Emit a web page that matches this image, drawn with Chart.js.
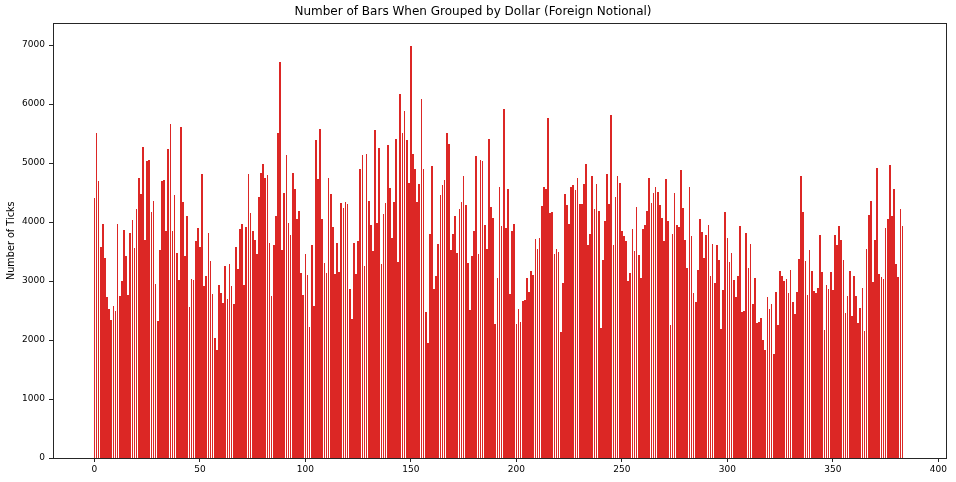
<!DOCTYPE html>
<html>
<head>
<meta charset="utf-8">
<script src="https://cdn.jsdelivr.net/npm/chart.js@4.4.0/dist/chart.umd.min.js"></script>
<style>
  body { margin: 0; background: #fff; }
  canvas { display: block; }
</style>
</head>
<body>
<canvas id="Chart" width="956" height="482"></canvas>
<script>
const chartTitle = 'Number of Bars When Grouped by Dollar (Foreign Notional)';
const yAxisTitle = 'Number of Ticks';
const xTickValues = [0, 50, 100, 150, 200, 250, 300, 350, 400];
const yTickValues = [0, 1000, 2000, 3000, 4000, 5000, 6000, 7000];

// ticks per dollar bar (bar 0 .. 383)
const ticksPerBar = [
  4410, 5510, 4700, 3580, 3970, 3390, 2730, 2530, 2340, 2580,
  2490, 3970, 2750, 3000, 3860, 3420, 2760, 3810, 4030, 3560,
  4220, 4750, 4470, 5270, 3700, 5030, 5050, 4170, 4360, 2950,
  2320, 3530, 4700, 4710, 3850, 5240, 5660, 3850, 4460, 3470,
  3020, 5610, 4340, 3420, 4100, 2560, 3030, 3020, 3680, 3900,
  3580, 4810, 2920, 3080, 3810, 3340, 2780, 2030, 1830, 2930,
  2800, 2630, 3250, 2700, 3290, 2920, 2610, 3580, 3200, 3880,
  3970, 2930, 3920, 4810, 4150, 3850, 3700, 3460, 4420, 4830,
  4980, 4750, 4800, 3640, 2750, 3610, 4100, 5510, 6710, 3530,
  4490, 5140, 3980, 3780, 4830, 4560, 4050, 4190, 3140, 2760,
  3460, 3100, 2220, 3610, 2580, 5390, 4730, 5580, 4050, 3310,
  3140, 4750, 4470, 3920, 3120, 3640, 3150, 4320, 4240, 4340,
  4310, 2860, 2360, 3640, 3120, 3680, 4900, 5140, 3250, 5150,
  4360, 3950, 3510, 5560, 3980, 5250, 3290, 4140, 4320, 5310,
  4580, 3730, 4340, 5410, 3320, 6170, 5510, 5880, 5390, 4660,
  6990, 5150, 4900, 4340, 4640, 6080, 4900, 2470, 1950, 3800,
  4950, 2860, 3080, 3630, 4460, 4630, 4710, 5510, 5320, 3530,
  3800, 4100, 3470, 4220, 4340, 4780, 4290, 3310, 2510, 3420,
  3850, 5120, 3460, 5050, 5030, 3950, 3540, 5410, 4250, 4070,
  2270, 3050, 4590, 3930, 5910, 3900, 4560, 2780, 3850, 3970,
  2270, 2530, 2310, 2660, 2680, 3050, 2810, 3170, 3100, 3710,
  3540, 3730, 4270, 4590, 4560, 5760, 4150, 4170, 3460, 3540,
  3490, 2140, 2970, 4470, 4290, 3970, 4590, 4630, 4540, 4750,
  4310, 4310, 4640, 4980, 3610, 3800, 4780, 4220, 4640, 4190,
  2200, 3360, 4020, 4810, 4310, 5810, 3610, 4420, 4780, 4660,
  3850, 3760, 3680, 3000, 3140, 3880, 3510, 4250, 3440, 3050,
  3880, 3950, 4190, 4750, 4320, 4490, 4590, 4510, 4290, 4070,
  3680, 4730, 4020, 2250, 3800, 4490, 3950, 3920, 4880, 4240,
  3700, 3220, 4590, 3760, 2800, 2640, 3190, 4050, 3830, 3390,
  3780, 3950, 3080, 3630, 2970, 3610, 3360, 2190, 2850, 4170,
  3730, 3320, 3470, 3020, 2730, 3080, 3930, 2470, 2490, 3810,
  3220, 3630, 2610, 3050, 2290, 2310, 2370, 2000, 1830, 2730,
  2530, 2610, 1760, 2810, 2250, 3170, 3080, 3000, 3030, 2800,
  3190, 2640, 2440, 2810, 3370, 4780, 4170, 3340, 2760, 3530,
  3170, 2830, 2800, 2880, 3780, 3150, 2170, 2930, 2860, 3150,
  2850, 3780, 3610, 3930, 3700, 3360, 2460, 2750, 3170, 2410,
  3080, 2750, 2290, 2540, 2880, 2150, 3540, 4120, 4360, 2980,
  3700, 4910, 3120, 3070, 3030, 3900, 4050, 4960, 4100, 4560,
  3290, 3070, 4220, 3930
];

// box round the plot area, drawn over the bars
const frame = {
  id: 'frame',
  afterDraw(chart) {
    const { ctx, chartArea: a } = chart;
    ctx.save();
    ctx.strokeStyle = '#262626';
    ctx.lineWidth = 1;
    ctx.strokeRect(Math.round(a.left) + 0.5, Math.round(a.top) + 0.5,
      Math.round(a.right) - Math.round(a.left), Math.round(a.bottom) - Math.round(a.top));
    ctx.restore();
  }
};

// snap bar edges to whole pixels so the thin bars stay solid red
const snapBars = {
  id: 'snapBars',
  afterDatasetUpdate(chart, args) {
    args.meta.data.forEach(el => {
      let left = Math.round(el.x - el.width / 2);
      let right = Math.round(el.x + el.width / 2);
      if (right <= left) right = left + 1;
      el.x = (left + right) / 2;
      el.width = right - left;
      el.y = Math.round(el.y);
      el.base = Math.round(el.base);
    });
  }
};

const tickFont = { family: '"DejaVu Sans", sans-serif', size: 9 };

const ctx = document.getElementById('Chart');
new Chart(ctx, {
  type: 'bar',
  data: {
    datasets: [{
      data: ticksPerBar.map((v, i) => ({ x: i, y: v })),
      backgroundColor: '#dc2725',
      borderWidth: 0,
      inflateAmount: 0,
      barPercentage: 0.8,
      categoryPercentage: 1.0
    }]
  },
  options: {
    responsive: false,
    animation: false,
    devicePixelRatio: 1,
    layout: { padding: { left: 0, right: 10, top: 0, bottom: 0 } },
    plugins: {
      legend: { display: false },
      tooltip: { enabled: false },
      title: {
        display: true,
        text: chartTitle,
        color: '#000',
        font: { family: '"DejaVu Sans", sans-serif', size: 12, weight: 'normal', lineHeight: 1.2 },
        padding: { top: 5, bottom: 4 }
      }
    },
    scales: {
      x: {
        type: 'linear',
        min: -19.64,
        max: 403.64,
        offset: false,
        afterBuildTicks: s => { s.ticks = xTickValues.map(v => ({ value: v })); },
        afterFit: s => { s.height = 24; },
        ticks: { color: '#000', font: tickFont, padding: 2, autoSkip: false, maxRotation: 0,
          callback: v => String(v) },
        grid: { display: true, offset: false, drawOnChartArea: false, drawTicks: true, tickLength: 4, color: '#262626' },
        border: { display: false }
      },
      y: {
        min: 0,
        max: 7368,
        afterBuildTicks: s => { s.ticks = yTickValues.map(v => ({ value: v })); },
        afterFit: s => { s.width = 53; },
        ticks: { color: '#000', font: tickFont, padding: 4, callback: v => String(v) },
        grid: { display: true, offset: false, drawOnChartArea: false, drawTicks: true, tickLength: 4, color: '#262626' },
        border: { display: false },
        title: {
          display: true,
          text: yAxisTitle,
          color: '#000',
          font: { family: '"DejaVu Sans", sans-serif', size: 9.7, lineHeight: 1.2 },
          padding: { top: 5.2, bottom: 0 }
        }
      }
    }
  },
  plugins: [frame, snapBars]
});
</script>
</body>
</html>
